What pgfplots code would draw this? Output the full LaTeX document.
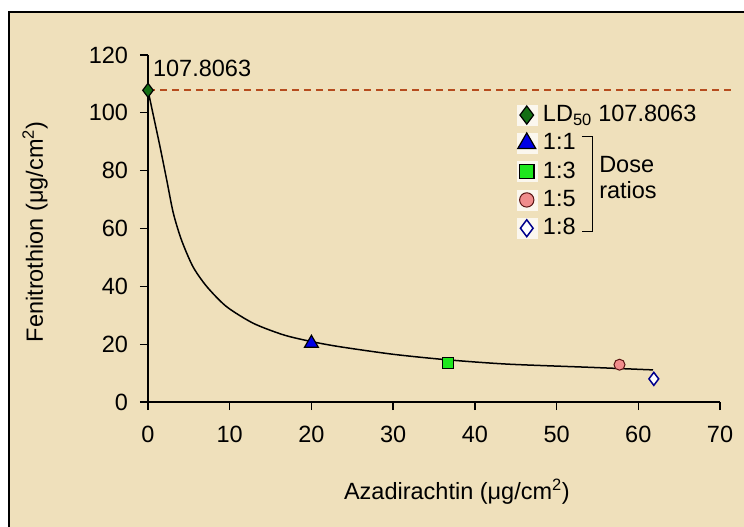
\documentclass[border=0pt]{standalone}
\usepackage{fontspec}
\setmainfont{Liberation Sans}
\usepackage{pgfplots}
\pgfplotsset{compat=1.18}
\definecolor{bg}{RGB}{239,224,187}
\definecolor{ldline}{RGB}{182,76,30}
\definecolor{ldgreen}{RGB}{20,110,20}
\definecolor{bluem}{RGB}{0,0,230}
\definecolor{greenm}{RGB}{30,230,30}
\definecolor{pinkm}{RGB}{240,140,140}
\definecolor{pinkedge}{RGB}{90,20,20}
\definecolor{navym}{RGB}{0,0,140}
\newcommand{\cfont}{\fontsize{23.5bp}{28bp}\selectfont}
\begin{document}
\cfont
\begin{tikzpicture}
\useasboundingbox (-148bp,-125bp) rectangle (596bp,402bp);
\fill[white] (-148bp,-125bp) rectangle (596bp,402bp);
\fill[bg] (-139bp,-125bp) rectangle (596bp,390bp);
\draw[line width=2bp] (-139bp,-130bp) -- (-139bp,390bp) -- (600bp,390bp);
\begin{axis}[
  scale only axis, width=572bp, height=347bp,
  xmin=0, xmax=70, ymin=0, ymax=120,
  axis lines*=left,
  xtick={0,10,...,70}, ytick={0,20,...,120},
  tick align=outside, major tick length=8bp,
  every tick/.style={line width=1.3bp, black},
  axis line style={line width=1.3bp},
  tick label style={font=\cfont},
  /pgf/number format/assume math mode=true,
  xticklabel style={yshift=-8bp},
  yticklabel style={xshift=-4bp},
  every axis x label/.style={at={(axis description cs:0.54,-0.2594)}, anchor=center, font=\cfont},
  every axis y label/.style={at={(axis description cs:-0.1976,0.49)}, anchor=center, rotate=90, font=\cfont},
  xlabel={Azadirachtin (μg/cm\textsuperscript{2})},
  ylabel={Fenitrothion (μg/cm\textsuperscript{2})},
  clip=false,
  legend style={at={(axis description cs:0.644,0.862)}, anchor=north west, draw=none, fill=none, font=\cfont, row sep=4.5bp, column sep=4bp, inner sep=0pt},
  legend cell align=left,
  legend image code/.code={\fill[white!75!bg] (-10bp,-10bp) rectangle (10bp,10bp); \draw[#1, every mark/.append style={scale=1.3}] plot coordinates {(0bp,0bp)};},
]
\addplot[forget plot, ldline, line width=2bp, dash pattern=on 7bp off 5bp] coordinates {(0,107.8063) (71.8,107.8063)};
\addplot[forget plot, black, line width=1.5bp, smooth, tension=0.45] coordinates {
 (0,107.8) (0.7,98.5) (1.47,88.3) (2.29,76.8) (3.1,65.3) (4.1,56) (5.5,46.8) (7.2,39.9) (9.6,33)
 (12.9,27.2) (16.6,23.2) (20,20.9) (23.5,19.1) (30,16.5) (36.6,14.6) (44,13.1) (54,12) (61.8,11.1)};
\addplot[only marks, mark=diamond*, mark size=7bp, mark options={fill=ldgreen, draw=black, line width=1.2bp}] coordinates {(0,107.8063)};
\addlegendentry{LD\textsubscript{50} 107.8063}
\addplot[only marks, mark=triangle*, mark size=8bp, mark options={fill=bluem, draw=black, line width=1.2bp}] coordinates {(20,20.3)};
\addlegendentry{1:1}
\addplot[only marks, mark=square*, mark size=5.5bp, mark options={fill=greenm, draw=black, line width=1.2bp}] coordinates {(36.7,13.4)};
\addlegendentry{1:3}
\addplot[only marks, mark=*, mark size=5.5bp, mark options={fill=pinkm, draw=pinkedge, line width=1bp}] coordinates {(57.7,12.9)};
\addlegendentry{1:5}
\addplot[only marks, mark=diamond*, mark size=6.5bp, mark options={fill=white, draw=navym, line width=1.5bp}] coordinates {(61.9,8.0)};
\addlegendentry{1:8}
\node[anchor=west, font=\cfont, inner sep=0pt] at (axis cs:0.6,115.5) {107.8063};
\draw[line width=1.3bp] (axis cs:53.1,91.75) -- (axis cs:54.4,91.75) -- (axis cs:54.4,58.9) -- (axis cs:53.1,58.9);
\node[anchor=west, font=\cfont, inner sep=0pt] at (axis cs:55.2,82.0) {Dose};
\node[anchor=west, font=\cfont, inner sep=0pt] at (axis cs:55.2,73.3) {ratios};
\end{axis}
\end{tikzpicture}
\end{document}
